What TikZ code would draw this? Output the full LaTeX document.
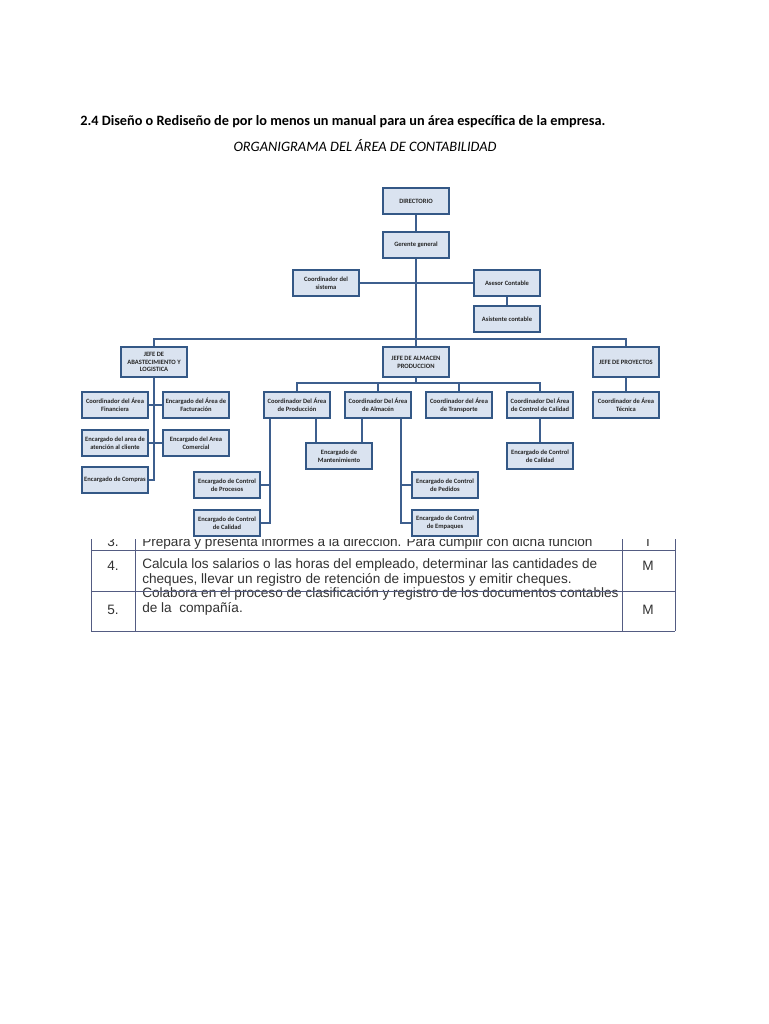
\documentclass[tikz,border=0pt]{standalone}
\usepackage{fontspec}
\setmainfont{Carlito}
\newfontfamily\tableFont{Liberation Sans}
\usetikzlibrary{positioning}
\tikzstyle{page} = [x = 0.75pt, y = -0.75pt]
\definecolor{boxFill}{RGB}{218,227,240}
\definecolor{boxBorder}{RGB}{52,88,134}
\definecolor{lineColor}{RGB}{62,95,142}
\definecolor{tableLine}{RGB}{84,92,130}
\definecolor{tableText}{RGB}{50,50,50}
\tikzstyle{boxStyle} = [draw=boxBorder, fill=boxFill, line width=1.3pt, minimum width=50pt, minimum height=19.5pt, inner sep=0.5pt, align=center, font=\fontsize{4.9}{5.9}\selectfont\bfseries, text=black!85]
\tikzstyle{jefeStyle} = [boxStyle, minimum height=22pt]
\tikzstyle{orgLine} = [draw=lineColor, line width=1.3pt]
\tikzstyle{tableRule} = [draw=tableLine, line width=0.6pt]
\tikzstyle{tableCell} = [font=\tableFont\fontsize{10.2}{12}\selectfont, text=tableText, anchor=base west, inner sep=0pt]
\tikzstyle{tableMark} = [tableCell, anchor=base]
\newcommand{\orgBox}[4]{\node [boxStyle] (#1) at (#2,#3) {#4};}
\newcommand{\jefeBox}[4]{\node [jefeStyle] (#1) at (#2,#3) {#4};}
\newcommand{\tableRow}[3]{\node [tableMark] (num#1) at (113,#2) {#1.}; \node [tableMark] (mark#1) at (648,#2) {#3};}

\begin{document}
\begin{tikzpicture}[page]
  \useasboundingbox [fill=white] (0,0) rectangle (768,1024);

  % headings
  \node [anchor=base west, inner sep=0pt, font=\fontsize{10.7}{12}\selectfont\bfseries] (heading) at (80,125) {2.4 Diseño o Rediseño de por lo menos un manual para un área específica de la empresa.};
  \node [anchor=base, inner sep=0pt, font=\fontsize{10.8}{12}\selectfont\itshape] (chartTitle) at (365,151) {ORGANIGRAMA DEL ÁREA DE CONTABILIDAD};

  % table behind the chart
  \node [tableCell] (row3) at (142,546) {Prepara y presenta informes a la dirección. Para cumplir con dicha función};
  \tableRow{3}{546}{I}
  \node [tableCell] (row4a) at (142,568) {Calcula los salarios o las horas del empleado, determinar las cantidades de};
  \node [tableCell] (row4b) at (142,583) {cheques, llevar un registro de retención de impuestos y emitir cheques.};
  \tableRow{4}{570}{M}
  \node [tableCell] (row5a) at (142,597) {Colabora en el proceso de clasificación y registro de los documentos contables};
  \node [tableCell] (row5b) at (142,612) {de la\ \ compañía.};
  \tableRow{5}{614}{M}
  \foreach \col in {91,135,622,675} {
    \draw [tableRule] (\col,530) -- (\col,631);
  }
  \foreach \row in {550,591,631} {
    \draw [tableRule] (91,\row) -- (675,\row);
  }
  \fill [white] (40,165) rectangle (728,539);

  % chart boxes
  \orgBox{directorio}{416}{201}{DIRECTORIO}
  \orgBox{gerente}{416}{245}{Gerente general}
  \orgBox{coordSistema}{326}{283}{Coordinador del\\sistema}
  \orgBox{asesor}{507}{283}{Asesor Contable}
  \orgBox{asistente}{507}{319}{Asistente contable}

  \jefeBox{jefeAbast}{154}{362}{JEFE DE\\ABASTECIMIENTO Y\\LOGISTICA}
  \jefeBox{jefeAlmacen}{416}{362}{JEFE DE ALMACEN\\PRODUCCION}
  \jefeBox{jefeProyectos}{626}{362}{JEFE DE PROYECTOS}

  \orgBox{coordFinanciera}{115}{405}{Coordinador del Área\\Financiera}
  \orgBox{encFacturacion}{196}{405}{Encargado del Área de\\Facturación}
  \orgBox{encAtencion}{115}{443}{Encargado del area de\\atención al cliente}
  \orgBox{encComercial}{196}{443}{Encargado del Area\\Comercial}
  \orgBox{encCompras}{115}{480}{Encargado de Compras}

  \orgBox{coordProduccion}{297}{405}{Coordinador Del Área\\de Producción}
  \orgBox{coordAlmacen}{378}{405}{Coordinador Del Área\\de Almacén}
  \orgBox{coordTransporte}{459}{405}{Coordinador del Área\\de Transporte}
  \orgBox{coordCalidad}{540}{405}{Coordinador Del Área\\de Control de Calidad}
  \orgBox{coordTecnica}{626}{405}{Coordinador de Área\\Técnica}

  \orgBox{encMantenimiento}{339}{456}{Encargado de\\Mantenimiento}
  \orgBox{encCalidadRight}{540}{456}{Encargado de Control\\de Calidad}
  \orgBox{encProcesos}{227}{485}{Encargado de Control\\de Procesos}
  \orgBox{encCalidadLeft}{227}{523}{Encargado de Control\\de Calidad}
  \orgBox{encPedidos}{445}{485}{Encargado de Control\\de Pedidos}
  \orgBox{encEmpaques}{445}{523}{Encargado de Control\\de Empaques}

  % connectors
  \coordinate (topBar) at (416,339);
  \coordinate (midBar) at (416,383);
  \draw [orgLine] (directorio) -- (gerente);
  \draw [orgLine] (gerente) -- (jefeAlmacen);
  \draw [orgLine] (coordSistema) -- (asesor);
  \draw [orgLine] (asesor) -- (asistente);
  \draw [orgLine] (jefeAbast.north) |- (topBar) -| (jefeProyectos.north);
  \draw [orgLine] (jefeProyectos) -- (coordTecnica);

  \draw [orgLine] (jefeAbast.south) |- (encCompras.east);
  \draw [orgLine] (coordFinanciera) -- (encFacturacion);
  \draw [orgLine] (encAtencion) -- (encComercial);

  \draw [orgLine] (jefeAlmacen) -- (midBar);
  \draw [orgLine] (coordProduccion.north) |- (midBar) -| (coordCalidad.north);
  \draw [orgLine] (coordAlmacen.north) -- (coordAlmacen.north |- midBar);
  \draw [orgLine] (coordTransporte.north) -- (coordTransporte.north |- midBar);
  \draw [orgLine] (coordCalidad) -- (encCalidadRight);

  \coordinate (prodDrop) at ([xshift=-20pt]coordProduccion.south);
  \coordinate (prodMant) at ([xshift=14pt]coordProduccion.south);
  \coordinate (almMant) at ([xshift=-12pt]coordAlmacen.south);
  \coordinate (almDrop) at ([xshift=17pt]coordAlmacen.south);
  \draw [orgLine] (prodDrop) |- (encCalidadLeft.east);
  \draw [orgLine] (encProcesos.east) -- (encProcesos.east -| prodDrop);
  \draw [orgLine] (prodMant) -- (prodMant |- encMantenimiento.north);
  \draw [orgLine] (almMant) -- (almMant |- encMantenimiento.north);
  \draw [orgLine] (almDrop) |- (encEmpaques.west);
  \draw [orgLine] (encPedidos.west) -- (encPedidos.west -| almDrop);
\end{tikzpicture}
\end{document}
